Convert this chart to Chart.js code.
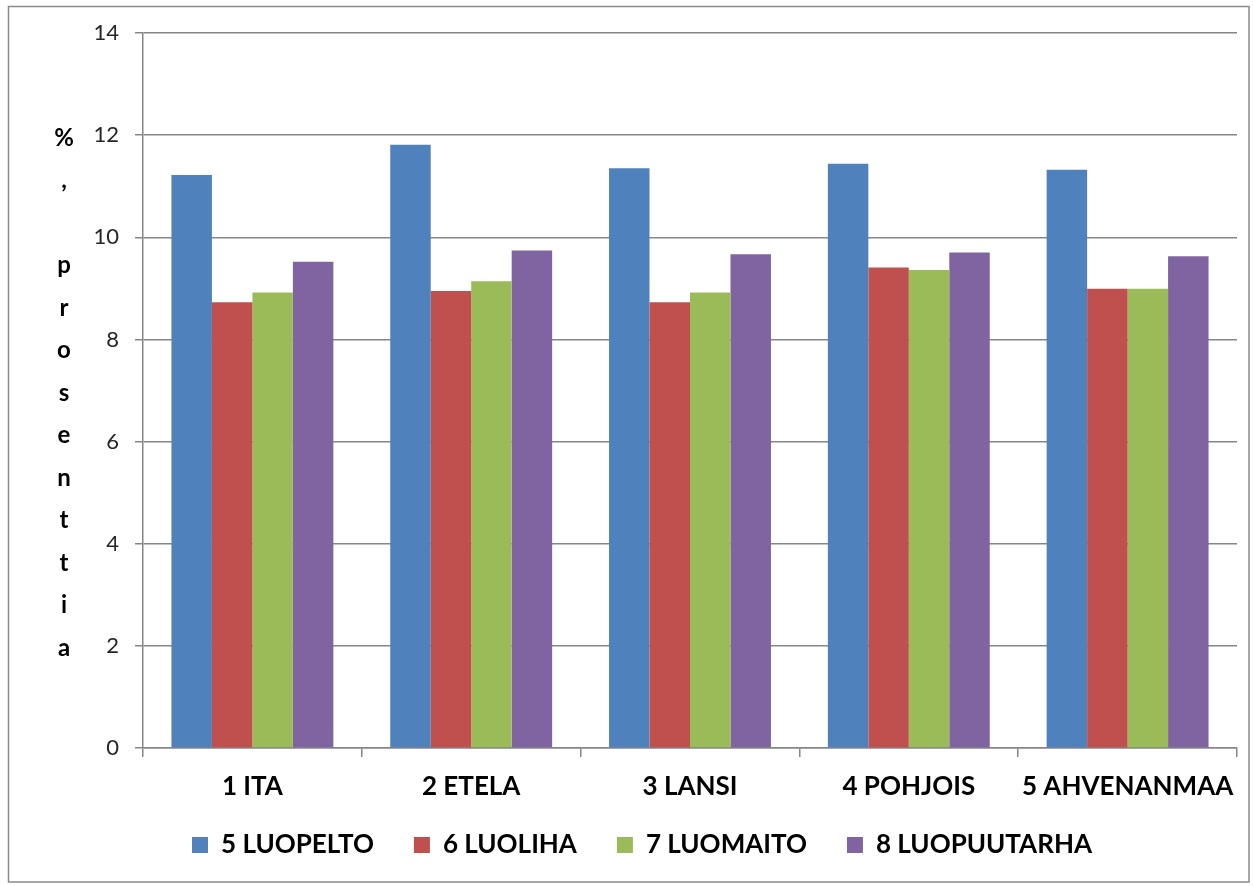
<!DOCTYPE html>
<html><head><meta charset="utf-8">
<script src="https://cdn.jsdelivr.net/npm/chart.js@4/dist/chart.umd.min.js"></script>
<style>html,body{margin:0;padding:0;background:#fff}</style>
</head><body>
<canvas id="c" width="1253" height="886" style="display:block;width:1253px;height:886px"></canvas>
<script>
const categories = ['1 ITA', '2 ETELA', '3 LANSI', '4 POHJOIS', '5 AHVENANMAA'];
const seriesNames = ['5 LUOPELTO', '6 LUOLIHA', '7 LUOMAITO', '8 LUOPUUTARHA'];
const luopelto = [11.22, 11.81, 11.35, 11.44, 11.32];
const luoliha = [8.73, 8.95, 8.73, 9.41, 8.99];
const luomaito = [8.92, 9.14, 8.92, 9.36, 8.99];
const luopuutarha = [9.52, 9.74, 9.67, 9.70, 9.63];
const yTicks = [0, 2, 4, 6, 8, 10, 12, 14];
const yTitle = '%, prosenttia';
const colors = ['#4F81BD', '#C0504D', '#9BBB59', '#8064A2'];

const axisGray = '#868686';

const framePlugin = {
  id: 'frame',
  beforeDraw(chart) {
    const ctx = chart.ctx;
    ctx.save();
    ctx.fillStyle = '#fff';
    ctx.fillRect(0, 0, chart.width, chart.height);
    ctx.strokeStyle = '#8a8a8a';
    ctx.lineWidth = 1.5;
    ctx.strokeRect(8.5, 6.5, chart.width - 4 - 8.5, chart.height - 4 - 6.5);
    ctx.restore();
  }
};

const yTitlePlugin = {
  id: 'yTitleStacked',
  afterDraw(chart) {
    const ctx = chart.ctx;
    const ys = chart.scales.y;
    const start = ys.getPixelForValue(12) + 3;
    const step = 42.5;
    ctx.save();
    ctx.font = 'bold 24px Lato';
    ctx.fillStyle = '#000';
    ctx.textAlign = 'center';
    ctx.textBaseline = 'middle';
    Array.from(yTitle).forEach((ch, i) => {
      if (ch !== ' ') ctx.fillText(ch, 64, start + i * step);
    });
    ctx.restore();
  }
};

new Chart(document.getElementById('c'), {
  type: 'bar',
  data: {
    labels: categories,
    datasets: [luopelto, luoliha, luomaito, luopuutarha].map((d, i) => ({
      label: seriesNames[i],
      data: d,
      backgroundColor: colors[i],
      borderWidth: 0,
      categoryPercentage: 0.74,
      barPercentage: 1.0
    }))
  },
  options: {
    responsive: false,
    animation: false,
    devicePixelRatio: 1,
    layout: { padding: { left: 47, top: 33, right: 16, bottom: 18 } },
    plugins: {
      tooltip: { enabled: false },
      legend: {
        position: 'bottom',
        labels: {
          boxWidth: 16,
          boxHeight: 16,
          padding: 40,
          color: '#000',
          font: { family: 'Lato', weight: 'bold', size: 26 }
        }
      }
    },
    scales: {
      x: {
        grid: { display: true, drawOnChartArea: false, drawTicks: true, tickLength: 9, color: axisGray, lineWidth: 1.5, offset: true },
        border: { color: axisGray, width: 1.5 },
        ticks: { color: '#000', padding: 14, font: { family: 'Lato', weight: 'bold', size: 26 } },
        afterFit(s) { s.height = 44; s._computeLabelArea = () => undefined; }
      },
      y: {
        min: 0, max: 14,
        afterBuildTicks(s) { s.ticks = yTicks.map(v => ({ value: v })); },
        grid: { color: axisGray, lineWidth: 1.5, tickLength: 8 },
        border: { color: axisGray, width: 1.5 },
        ticks: { color: '#262626', padding: 16, font: { family: 'Lato', size: 22 } },
        afterFit(s) { s.width = 96; }
      }
    }
  },
  plugins: [framePlugin, yTitlePlugin]
});
</script>
</body></html>
